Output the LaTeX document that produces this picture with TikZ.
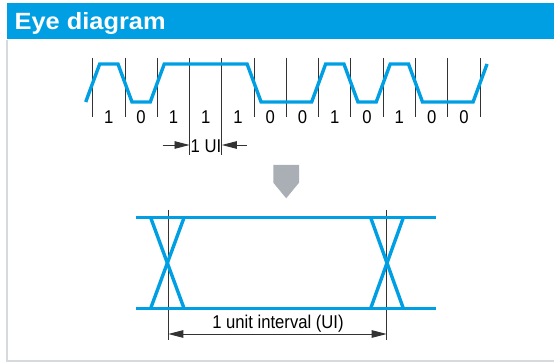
\documentclass[tikz,border=0pt]{standalone}
\usepackage{fontspec}
\setmainfont{Liberation Sans}
\newfontfamily\headfont[FakeStretch=1.08]{Liberation Sans}
\newfontfamily\labelfont[FakeStretch=0.9]{Liberation Sans}
\usepackage{xcolor}
\usepackage{tikz}
\usetikzlibrary{
  positioning,
  arrows.meta,
  calc
}
\definecolor{eyeblue}{HTML}{009FE3}
\definecolor{pointergray}{HTML}{A9AFB4}
\definecolor{framegray}{HTML}{D5DADD}

\begin{document}
\begin{tikzpicture}[
    x=1pt, y=-1pt,
    >={Triangle[length=15pt,width=7.5pt]},
    wave/.style={line width=3.4pt, eyeblue, line join=miter},
    tick/.style={line width=0.9pt, black!80},
    bitlabel/.style={inner sep=0pt, font=\labelfont\fontsize{18.5}{20}\selectfont}
]
    \useasboundingbox (0,0) rectangle (554,363);

    % frame and title bar
    \draw[framegray, line width=1.6pt] (7,40) -- (7,361) -- (554,361);
    \fill[eyeblue] (7,3.5) rectangle (554,39.5);
    \node[anchor=base west, inner sep=0pt, text=white,
          font=\headfont\bfseries\fontsize{23.5}{26}\selectfont] (title) at (14.5,29.3) {Eye diagram};

    % bit stream
    \def\xa{92.7}
    \def\ui{32.28}
    \def\hi{64}
    \def\lo{102}
    \def\tr{7}

    \foreach \i in {0,...,12} {
        \coordinate (top\i) at ({\xa+\i*\ui},58);
        \coordinate (bot\i) at ({\xa+\i*\ui},117);
    }
    \foreach \i in {0,1,2,5,6,7,8,9,10,11,12}
        \draw[tick] (top\i) -- (bot\i);
    \foreach \i in {3,4}
        \draw[tick] (top\i) -- ++(0,97);

    \draw[wave] ({\xa-\tr},\lo) -- ({\xa+\tr},\hi)
        \foreach \i/\f/\t in {1/\hi/\lo, 2/\lo/\hi, 5/\hi/\lo, 7/\lo/\hi,
                              8/\hi/\lo, 9/\lo/\hi, 10/\hi/\lo, 12/\lo/\hi} {
            -- ({\xa+\i*\ui-\tr},\f) -- ({\xa+\i*\ui+\tr},\t)
        };

    \foreach \i/\v in {0/1,1/0,2/1,3/1,4/1,5/0,6/0,7/1,8/0,9/1,10/0,11/0}
        \node[bitlabel] (bit\i) at ({\xa+(\i+0.5)*\ui},117) {\v};

    % one UI marker
    \coordinate (uiA) at ({\xa+3*\ui},145);
    \coordinate (uiB) at ({\xa+4*\ui},145);
    \draw[->, tick] ($(uiA)+(-27,0)$) coordinate (uiAs) -- (uiA);
    \draw[->, tick] ($(uiB)+(25,0)$) coordinate (uiBs) -- (uiB);
    \node[bitlabel] (uilabel) at (206,145.8) {1 UI};

    % pointer
    \fill[pointergray] (273.3,165) -- (299,165) -- (299,182.7) -- (286.2,198.3) -- (273.3,182.7) -- cycle;

    % eye
    \def\et{217.7}
    \def\eb{308.3}
    \coordinate (eL) at (168.3,334);
    \coordinate (eR) at (386.7,334);
    \draw[tick] (168.3,210) -- (168.3,340);
    \draw[tick] (386.7,210) -- (386.7,340);
    \draw[<->, tick] (eL) -- (eR);

    \draw[wave] (136,\et) -- (436,\et);
    \draw[wave] (136,\eb) -- (436,\eb);
    \draw[wave] (150.7,\et) -- (184,\eb);
    \draw[wave] (184,\et) -- (150.7,\eb);
    \draw[wave] (370.7,\et) -- (403.3,\eb);
    \draw[wave] (403.3,\et) -- (370.7,\eb);

    \node[bitlabel] (uitext) at (278,323.5) {1 unit interval (UI)};
\end{tikzpicture}
\end{document}
